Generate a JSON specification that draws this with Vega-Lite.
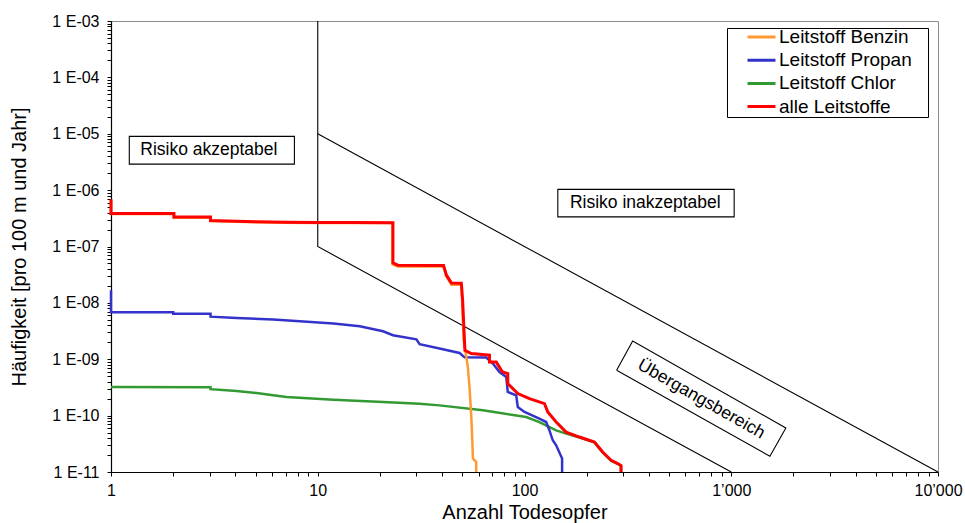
{
  "$schema": "https://vega.github.io/schema/vega-lite/v6.json",
  "autosize": {"type": "none"},
  "padding": {"left": 111, "top": 21, "right": 27, "bottom": 51},
  "width": 827,
  "height": 451,
  "background": "white",
  "datasets": {
    "curves": [
      {"s": "Leitstoff Chlor", "i": 0, "n": 1, "f": 3.22e-10},
      {"s": "Leitstoff Chlor", "i": 1, "n": 3.03, "f": 3.18e-10},
      {"s": "Leitstoff Chlor", "i": 2, "n": 3.03, "f": 2.95e-10},
      {"s": "Leitstoff Chlor", "i": 3, "n": 4.05, "f": 2.74e-10},
      {"s": "Leitstoff Chlor", "i": 4, "n": 5.06, "f": 2.52e-10},
      {"s": "Leitstoff Chlor", "i": 5, "n": 6.08, "f": 2.29e-10},
      {"s": "Leitstoff Chlor", "i": 6, "n": 7.06, "f": 2.14e-10},
      {"s": "Leitstoff Chlor", "i": 7, "n": 11.9, "f": 1.92e-10},
      {"s": "Leitstoff Chlor", "i": 8, "n": 20.7, "f": 1.74e-10},
      {"s": "Leitstoff Chlor", "i": 9, "n": 31.1, "f": 1.63e-10},
      {"s": "Leitstoff Chlor", "i": 10, "n": 38.8, "f": 1.52e-10},
      {"s": "Leitstoff Chlor", "i": 11, "n": 62.9, "f": 1.24e-10},
      {"s": "Leitstoff Chlor", "i": 12, "n": 101.9, "f": 9.45e-11},
      {"s": "Leitstoff Chlor", "i": 13, "n": 118, "f": 7.7e-11},
      {"s": "Leitstoff Chlor", "i": 14, "n": 142.3, "f": 5.48e-11},
      {"s": "Leitstoff Chlor", "i": 15, "n": 159, "f": 4.8e-11},
      {"s": "Leitstoff Chlor", "i": 16, "n": 184.5, "f": 4.1e-11},
      {"s": "Leitstoff Chlor", "i": 17, "n": 217.9, "f": 3.35e-11},
      {"s": "Leitstoff Chlor", "i": 18, "n": 238.8, "f": 2.23e-11},
      {"s": "Leitstoff Chlor", "i": 19, "n": 262.3, "f": 1.59e-11},
      {"s": "Leitstoff Chlor", "i": 20, "n": 282.5, "f": 1.39e-11},
      {"s": "Leitstoff Chlor", "i": 21, "n": 293, "f": 1.28e-11},
      {"s": "Leitstoff Chlor", "i": 22, "n": 293, "f": 1e-11},

      {"s": "Leitstoff Propan", "i": 0, "n": 1, "f": 1.68e-8},
      {"s": "Leitstoff Propan", "i": 1, "n": 1, "f": 6.8e-9},
      {"s": "Leitstoff Propan", "i": 2, "n": 2.0, "f": 6.8e-9},
      {"s": "Leitstoff Propan", "i": 3, "n": 2.0, "f": 6.4e-9},
      {"s": "Leitstoff Propan", "i": 4, "n": 3.03, "f": 6.4e-9},
      {"s": "Leitstoff Propan", "i": 5, "n": 3.03, "f": 5.7e-9},
      {"s": "Leitstoff Propan", "i": 6, "n": 4.05, "f": 5.4e-9},
      {"s": "Leitstoff Propan", "i": 7, "n": 6.08, "f": 5.06e-9},
      {"s": "Leitstoff Propan", "i": 8, "n": 8.19, "f": 4.72e-9},
      {"s": "Leitstoff Propan", "i": 9, "n": 11.9, "f": 4.3e-9},
      {"s": "Leitstoff Propan", "i": 10, "n": 15.96, "f": 3.85e-9},
      {"s": "Leitstoff Propan", "i": 11, "n": 20.7, "f": 3.14e-9},
      {"s": "Leitstoff Propan", "i": 12, "n": 23.1, "f": 2.67e-9},
      {"s": "Leitstoff Propan", "i": 13, "n": 30.0, "f": 2.26e-9},
      {"s": "Leitstoff Propan", "i": 14, "n": 31.1, "f": 1.85e-9},
      {"s": "Leitstoff Propan", "i": 15, "n": 40.3, "f": 1.5e-9},
      {"s": "Leitstoff Propan", "i": 16, "n": 48.5, "f": 1.29e-9},
      {"s": "Leitstoff Propan", "i": 17, "n": 51.3, "f": 1.08e-9},
      {"s": "Leitstoff Propan", "i": 18, "n": 65.3, "f": 1.07e-9},
      {"s": "Leitstoff Propan", "i": 19, "n": 70.3, "f": 8.4e-10},
      {"s": "Leitstoff Propan", "i": 20, "n": 75.7, "f": 5.94e-10},
      {"s": "Leitstoff Propan", "i": 21, "n": 81.6, "f": 4.85e-10},
      {"s": "Leitstoff Propan", "i": 22, "n": 83.0, "f": 2.63e-10},
      {"s": "Leitstoff Propan", "i": 23, "n": 91.2, "f": 2.29e-10},
      {"s": "Leitstoff Propan", "i": 24, "n": 92.8, "f": 1.42e-10},
      {"s": "Leitstoff Propan", "i": 25, "n": 100, "f": 1.16e-10},
      {"s": "Leitstoff Propan", "i": 26, "n": 118, "f": 8.85e-11},
      {"s": "Leitstoff Propan", "i": 27, "n": 127.3, "f": 7.7e-11},
      {"s": "Leitstoff Propan", "i": 28, "n": 132, "f": 5.48e-11},
      {"s": "Leitstoff Propan", "i": 29, "n": 137, "f": 3.65e-11},
      {"s": "Leitstoff Propan", "i": 30, "n": 142.3, "f": 2.97e-11},
      {"s": "Leitstoff Propan", "i": 31, "n": 152, "f": 1.73e-11},
      {"s": "Leitstoff Propan", "i": 32, "n": 152, "f": 1e-11},

      {"s": "Leitstoff Benzin", "i": 0, "n": 1, "f": 6.7e-7},
      {"s": "Leitstoff Benzin", "i": 1, "n": 1, "f": 3.78e-7},
      {"s": "Leitstoff Benzin", "i": 2, "n": 2.015, "f": 3.78e-7},
      {"s": "Leitstoff Benzin", "i": 3, "n": 2.015, "f": 3.25e-7},
      {"s": "Leitstoff Benzin", "i": 4, "n": 3.03, "f": 3.25e-7},
      {"s": "Leitstoff Benzin", "i": 5, "n": 3.03, "f": 2.84e-7},
      {"s": "Leitstoff Benzin", "i": 6, "n": 4.05, "f": 2.75e-7},
      {"s": "Leitstoff Benzin", "i": 7, "n": 5.06, "f": 2.68e-7},
      {"s": "Leitstoff Benzin", "i": 8, "n": 7, "f": 2.65e-7},
      {"s": "Leitstoff Benzin", "i": 9, "n": 10, "f": 2.62e-7},
      {"s": "Leitstoff Benzin", "i": 10, "n": 15, "f": 2.62e-7},
      {"s": "Leitstoff Benzin", "i": 11, "n": 23.0, "f": 2.61e-7},
      {"s": "Leitstoff Benzin", "i": 12, "n": 23.0, "f": 4.83e-8},
      {"s": "Leitstoff Benzin", "i": 13, "n": 24.4, "f": 4.4e-8},
      {"s": "Leitstoff Benzin", "i": 14, "n": 40.6, "f": 4.4e-8},
      {"s": "Leitstoff Benzin", "i": 15, "n": 41.9, "f": 2.95e-8},
      {"s": "Leitstoff Benzin", "i": 16, "n": 44.3, "f": 2.1e-8},
      {"s": "Leitstoff Benzin", "i": 17, "n": 49.5, "f": 2.1e-8},
      {"s": "Leitstoff Benzin", "i": 18, "n": 50.0, "f": 1.0e-8},
      {"s": "Leitstoff Benzin", "i": 19, "n": 50.8, "f": 2.17e-9},
      {"s": "Leitstoff Benzin", "i": 20, "n": 53.2, "f": 7.3e-10},
      {"s": "Leitstoff Benzin", "i": 21, "n": 54.2, "f": 3.22e-10},
      {"s": "Leitstoff Benzin", "i": 22, "n": 55.3, "f": 9.4e-11},
      {"s": "Leitstoff Benzin", "i": 23, "n": 55.9, "f": 3.65e-11},
      {"s": "Leitstoff Benzin", "i": 24, "n": 56.3, "f": 1.73e-11},
      {"s": "Leitstoff Benzin", "i": 25, "n": 58.4, "f": 1.5e-11},
      {"s": "Leitstoff Benzin", "i": 26, "n": 58.4, "f": 1e-11},

      {"s": "alle Leitstoffe", "i": 0, "n": 1, "f": 6.9e-7},
      {"s": "alle Leitstoffe", "i": 1, "n": 1, "f": 3.85e-7},
      {"s": "alle Leitstoffe", "i": 2, "n": 2.015, "f": 3.85e-7},
      {"s": "alle Leitstoffe", "i": 3, "n": 2.015, "f": 3.32e-7},
      {"s": "alle Leitstoffe", "i": 4, "n": 3.03, "f": 3.32e-7},
      {"s": "alle Leitstoffe", "i": 5, "n": 3.03, "f": 2.9e-7},
      {"s": "alle Leitstoffe", "i": 6, "n": 4.05, "f": 2.81e-7},
      {"s": "alle Leitstoffe", "i": 7, "n": 5.06, "f": 2.74e-7},
      {"s": "alle Leitstoffe", "i": 8, "n": 7, "f": 2.7e-7},
      {"s": "alle Leitstoffe", "i": 9, "n": 10, "f": 2.67e-7},
      {"s": "alle Leitstoffe", "i": 10, "n": 15, "f": 2.66e-7},
      {"s": "alle Leitstoffe", "i": 11, "n": 23.1, "f": 2.64e-7},
      {"s": "alle Leitstoffe", "i": 12, "n": 23.1, "f": 5.12e-8},
      {"s": "alle Leitstoffe", "i": 13, "n": 24.4, "f": 4.66e-8},
      {"s": "alle Leitstoffe", "i": 14, "n": 40.6, "f": 4.6e-8},
      {"s": "alle Leitstoffe", "i": 15, "n": 41.9, "f": 3.1e-8},
      {"s": "alle Leitstoffe", "i": 16, "n": 44.3, "f": 2.26e-8},
      {"s": "alle Leitstoffe", "i": 17, "n": 49.5, "f": 2.24e-8},
      {"s": "alle Leitstoffe", "i": 18, "n": 50.2, "f": 1.11e-8},
      {"s": "alle Leitstoffe", "i": 19, "n": 51.5, "f": 1.44e-9},
      {"s": "alle Leitstoffe", "i": 20, "n": 55.3, "f": 1.26e-9},
      {"s": "alle Leitstoffe", "i": 21, "n": 67.7, "f": 1.18e-9},
      {"s": "alle Leitstoffe", "i": 22, "n": 67.7, "f": 8.95e-10},
      {"s": "alle Leitstoffe", "i": 23, "n": 73.0, "f": 8.9e-10},
      {"s": "alle Leitstoffe", "i": 24, "n": 78.3, "f": 5.95e-10},
      {"s": "alle Leitstoffe", "i": 25, "n": 83.0, "f": 5.57e-10},
      {"s": "alle Leitstoffe", "i": 26, "n": 83.0, "f": 3.7e-10},
      {"s": "alle Leitstoffe", "i": 27, "n": 92.8, "f": 2.46e-10},
      {"s": "alle Leitstoffe", "i": 28, "n": 105.7, "f": 2.0e-10},
      {"s": "alle Leitstoffe", "i": 29, "n": 125, "f": 1.63e-10},
      {"s": "alle Leitstoffe", "i": 30, "n": 129.6, "f": 1.16e-10},
      {"s": "alle Leitstoffe", "i": 31, "n": 142.3, "f": 7.7e-11},
      {"s": "alle Leitstoffe", "i": 32, "n": 159, "f": 5.1e-11},
      {"s": "alle Leitstoffe", "i": 33, "n": 184.5, "f": 4.17e-11},
      {"s": "alle Leitstoffe", "i": 34, "n": 217.9, "f": 3.4e-11},
      {"s": "alle Leitstoffe", "i": 35, "n": 238.8, "f": 2.26e-11},
      {"s": "alle Leitstoffe", "i": 36, "n": 262.3, "f": 1.61e-11},
      {"s": "alle Leitstoffe", "i": 37, "n": 282.5, "f": 1.41e-11},
      {"s": "alle Leitstoffe", "i": 38, "n": 293, "f": 1.3e-11},
      {"s": "alle Leitstoffe", "i": 39, "n": 293, "f": 1e-11}
    ],
    "limits": [
      {"g": "a", "i": 0, "n": 10, "f": 1e-3},
      {"g": "a", "i": 1, "n": 10, "f": 1e-7},
      {"g": "a", "i": 2, "n": 1000, "f": 1e-11},
      {"g": "b", "i": 0, "n": 10, "f": 1e-5},
      {"g": "b", "i": 1, "n": 10000, "f": 1e-11}
    ],
    "boxes": [
      {"n": 1.226, "n2": 7.71, "f": 8.97e-6, "f2": 2.89e-6},
      {"n": 144.9, "n2": 1033, "f": 1.03e-6, "f2": 3.36e-7}
    ],
    "rbox": [
      {"i": 0, "n": 279, "f": 6.37e-10},
      {"i": 1, "n": 333.6, "f": 2.11e-9},
      {"i": 2, "n": 1837, "f": 6.03e-11},
      {"i": 3, "n": 1538, "f": 1.9e-11},
      {"i": 4, "n": 279, "f": 6.37e-10}
    ],
    "labels": [
      {"t": "Risiko akzeptabel", "n": 2.974, "f": 5.08e-6},
      {"t": "Risiko inakzeptabel", "n": 384, "f": 5.87e-7}
    ],
    "rlabel": [
      {"t": "Übergangsbereich", "n": 716, "f": 1.95e-10}
    ]
  },
  "encoding": {
    "x": {
      "field": "n", "type": "quantitative",
      "scale": {"type": "log", "domain": [1, 10000], "nice": false},
      "axis": {
        "title": "Anzahl Todesopfer",
        "values": [1,2,3,4,5,6,7,8,9,10,20,30,40,50,60,70,80,90,100,200,300,400,500,600,700,800,900,1000,2000,3000,4000,5000,6000,7000,8000,9000,10000],
        "labelExpr": "datum.value == 1 ? '1' : datum.value == 10 ? '10' : datum.value == 100 ? '100' : datum.value == 1000 ? '1\u2019000' : datum.value == 10000 ? '10\u2019000' : ''",
        "labelPadding": 6,
        "titlePadding": 4
      }
    },
    "y": {
      "field": "f", "type": "quantitative",
      "scale": {"type": "log", "domain": [1e-11, 1e-3], "nice": false},
      "axis": {
        "title": "Häufigkeit [pro 100 m und Jahr]",
        "values": [1e-11,2e-11,3e-11,4e-11,5e-11,6e-11,7e-11,8e-11,9e-11,1e-10,2e-10,3e-10,4e-10,5e-10,6e-10,7e-10,8e-10,9e-10,1e-9,2e-9,3e-9,4e-9,5e-9,6e-9,7e-9,8e-9,9e-9,1e-8,2e-8,3e-8,4e-8,5e-8,6e-8,7e-8,8e-8,9e-8,1e-7,2e-7,3e-7,4e-7,5e-7,6e-7,7e-7,8e-7,9e-7,1e-6,2e-6,3e-6,4e-6,5e-6,6e-6,7e-6,8e-6,9e-6,1e-5,2e-5,3e-5,4e-5,5e-5,6e-5,7e-5,8e-5,9e-5,1e-4,2e-4,3e-4,4e-4,5e-4,6e-4,7e-4,8e-4,9e-4,1e-3],
        "labelExpr": "abs(log(datum.value)/LN10 - round(log(datum.value)/LN10)) < 0.001 ? '1 E-' + (round(-log(datum.value)/LN10) < 10 ? '0' : '') + round(-log(datum.value)/LN10) : ''",
        "labelPadding": 8,
        "titlePadding": 22
      }
    }
  },
  "layer": [
    {
      "data": {"name": "limits"},
      "mark": {"type": "line", "color": "#000000", "strokeWidth": 1.1},
      "encoding": {
        "detail": {"field": "g"},
        "order": {"field": "i", "type": "quantitative"}
      }
    },
    {
      "data": {"name": "boxes"},
      "mark": {"type": "rect", "fill": "#ffffff", "stroke": "#000000", "strokeWidth": 1.1},
      "encoding": {
        "x2": {"field": "n2"},
        "y2": {"field": "f2"}
      }
    },
    {
      "data": {"name": "rbox"},
      "mark": {"type": "line", "color": "#000000", "strokeWidth": 1.1},
      "encoding": {
        "order": {"field": "i", "type": "quantitative"}
      }
    },
    {
      "data": {"name": "labels"},
      "mark": {"type": "text", "fontSize": 17.5, "color": "#000000", "align": "center", "baseline": "middle"},
      "encoding": {"text": {"field": "t"}}
    },
    {
      "data": {"name": "rlabel"},
      "mark": {"type": "text", "fontSize": 17.5, "color": "#000000", "align": "center", "baseline": "middle", "angle": 29.6},
      "encoding": {"text": {"field": "t"}}
    },
    {
      "data": {"name": "curves"},
      "transform": [{"filter": "datum.s != 'alle Leitstoffe'"}],
      "mark": {"type": "line", "strokeWidth": 2.5},
      "encoding": {
        "color": {
          "field": "s", "type": "nominal",
          "scale": {"domain": ["Leitstoff Benzin", "Leitstoff Propan", "Leitstoff Chlor", "alle Leitstoffe"], "range": ["#FF9933", "#3333CC", "#339933", "#FF0000"]},
          "legend": {"title": "\u00a0", "titleOrient": "right", "titleFontSize": 1, "titlePadding": 16}
        },
        "order": {"field": "i", "type": "quantitative"}
      }
    },
    {
      "data": {"name": "curves"},
      "transform": [{"filter": "datum.s == 'alle Leitstoffe'"}],
      "mark": {"type": "line", "strokeWidth": 3},
      "encoding": {
        "color": {
          "field": "s", "type": "nominal",
          "scale": {"domain": ["Leitstoff Benzin", "Leitstoff Propan", "Leitstoff Chlor", "alle Leitstoffe"], "range": ["#FF9933", "#3333CC", "#339933", "#FF0000"]},
          "legend": {"title": "\u00a0", "titleOrient": "right", "titleFontSize": 1, "titlePadding": 16}
        },
        "order": {"field": "i", "type": "quantitative"}
      }
    }
  ],
  "config": {
    "font": "Liberation Sans",
    "view": {"stroke": "#8c8c8c", "strokeWidth": 1},
    "axis": {
      "grid": false,
      "domainColor": "#000000",
      "domainWidth": 1.2,
      "tickColor": "#000000",
      "tickSize": 4,
      "labelColor": "#000000",
      "titleColor": "#000000",
      "labelFont": "Liberation Sans",
      "titleFont": "Liberation Sans",
      "labelFontSize": 16,
      "titleFontSize": 20,
      "titleFontWeight": "normal",
      "labelFlush": false,
      "labelOverlap": false
    },
    "legend": {
      "orient": "none",
      "legendX": 616,
      "legendY": 7,
      "padding": 0,
      "strokeColor": "#000000",
      "fillColor": "#ffffff",
      "symbolType": "stroke",
      "symbolSize": 784,
      "symbolStrokeWidth": 3,
      "symbolOffset": 19,
      "labelOffset": 2,
      "clipHeight": 18,
      "labelFont": "Liberation Sans",
      "labelFontSize": 19,
      "labelColor": "#000000",
      "labelLimit": 250,
      "rowPadding": 4.2
    }
  }
}
